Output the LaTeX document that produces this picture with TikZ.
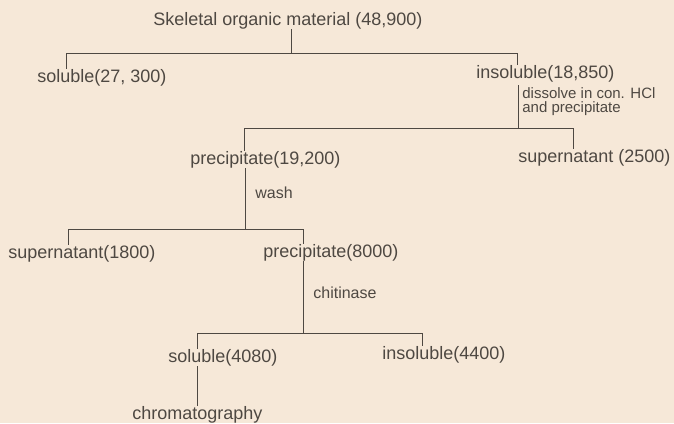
\documentclass[tikz,border=0pt]{standalone}
\usepackage{fontspec}
\setmainfont{Liberation Sans}
\definecolor{paper}{RGB}{246,232,216}
\definecolor{ink}{RGB}{78,72,66}

\begin{document}
\begin{tikzpicture}[x=1pt, y=-1pt, line width=0.75pt, color=ink,
	txt/.style={inner sep=0pt, anchor=base west, font=\fontsize{18}{20}\selectfont},
	lbl/.style={inner sep=0pt, anchor=base west, font=\fontsize{16}{18}\selectfont}]
	\fill[paper] (0,0) rectangle (674,423);
	\useasboundingbox (0,0) rectangle (674,423);
	\node[txt] (skel) at (153,25) {Skeletal organic material (48,900)};
	\node[txt] (sol) at (37,82) {soluble(27, 300)};
	\node[txt] (insol) at (476,78) {insoluble(18,850)};
	\node[lbl, font=\fontsize{15}{14}\selectfont] (hcla) at (522,98) {dissolve in con. HCl};
	\node[lbl, font=\fontsize{15}{14}\selectfont] (hclb) at (522,112) {and precipitate};
	\node[txt] (prec) at (190,164) {precipitate(19,200)};
	\node[txt] (supa) at (518,162) {supernatant (2500)};
	\node[lbl] (wash) at (255,198) {wash};
	\node[txt] (supb) at (8,258) {supernatant(1800)};
	\node[txt] (precb) at (263,257) {precipitate(8000)};
	\node[lbl] (chit) at (313,298) {chitinase};
	\node[txt] (solb) at (168,362) {soluble(4080)};
	\node[txt] (insolb) at (382,359) {insoluble(4400)};
	\node[txt] (chrom) at (132,419) {chromatography};
	\coordinate (ja) at (291,53);
	\coordinate (bal) at (66,53);
	\coordinate (bar) at (517,53);
	\draw (ja |- skel.south) -- (ja);
	\draw (bal |- sol.north) -- (bal) -- (bar) -- (bar |- insol.north);
	\coordinate (jb) at (518,128);
	\coordinate (bbl) at (244,128);
	\coordinate (bbr) at (573,128);
	\draw[shorten <=3pt] (jb |- insol.south) -- (jb);
	\draw (bbl |- prec.north) -- (bbl) -- (bbr) -- (bbr |- supa.north);
	\coordinate (jc) at (245,229);
	\coordinate (bcl) at (68,229);
	\coordinate (bcr) at (303,229);
	\draw (jc |- prec.south) -- (jc);
	\draw (bcl |- supb.north) -- (bcl) -- (bcr) -- (bcr |- precb.north);
	\coordinate (jd) at (303,333);
	\coordinate (bdl) at (197,333);
	\coordinate (bdr) at (422,333);
	\draw (jd |- precb.south) -- (jd);
	\draw (bdl |- solb.north) -- (bdl) -- (bdr) -- (bdr |- insolb.north);
	\coordinate (je) at (197,406);
	\draw (je |- solb.south) -- (je |- chrom.north);
\end{tikzpicture}
\end{document}
